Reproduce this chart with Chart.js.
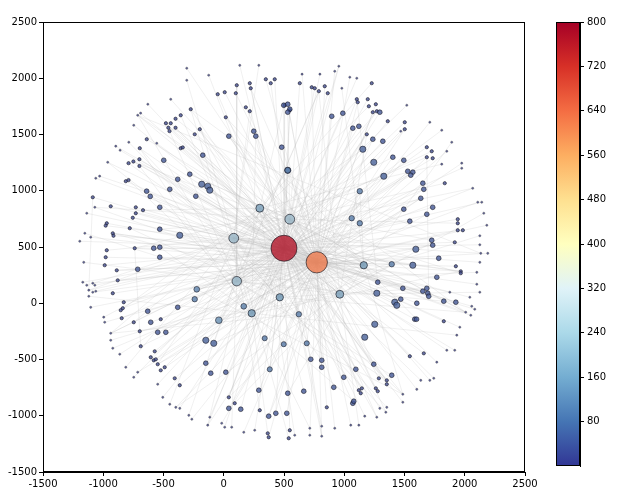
<!DOCTYPE html>
<html><head><meta charset="utf-8">
<script src="https://cdn.jsdelivr.net/npm/chart.js@4"></script>
<style>body{margin:0;background:#fff;width:626px;height:500px;position:relative;overflow:hidden}
canvas{position:absolute;top:0}</style></head>
<body>
<canvas id="main" width="626" height="500" style="left:0"></canvas>
<canvas id="cbar" width="86" height="500" style="left:540px"></canvas>
<script>
// axis ticks
const axisTicks = [-1500,-1000,-500,0,500,1000,1500,2000,2500];
const cbarTicks = [80,160,240,320,400,480,560,640,720,800];
// nodes: [x, y, degree, hub index it links to]
const nodes = [
[500,489,770,1],[772,364,620,0],[548,747,250,0],[83,578,250,0],[108,196,240,1],[299,845,190,1],
[963,80,190,0],[1162,338,170,0],[465,53,170,1],[232,-89,170,0],[531,1182,120,0],[1129,996,110,1],
[-224,124,120,0],[166,-27,120,1],[-41,-151,150,0],[1394,347,110,1],[623,-98,110,0],[689,-356,100,1],
[340,-311,100,0],[498,-364,100,1],[382,-587,100,0],[1062,756,110,0],[1129,711,110,1],[-241,36,110,0],
[-307,1982,5,3],[-125,2027,5,5],[-50,1858,20,0],[8,1876,20,2],[100,1867,20,1],[108,1938,20,4],[216,1956,20,0],
[224,1911,20,6],[349,1991,20,1],[390,1956,20,2],[423,1991,20,0],[17,1653,20,7],[183,1742,20,1],[216,1707,20,3],
[506,1760,20,0],[548,1716,20,8],[42,1485,40,1],[249,1529,40,0],[266,1485,40,9],[481,1387,40,1],[531,1182,60,0],
[-199,1547,20,2],[-241,1502,20,1],[-174,1316,40,0],[-357,1378,20,6],[-340,1385,20,1],[-274,1725,20,0],[-357,1671,20,3],
[-480,1600,20,1],[-440,1600,20,0],[-400,1640,20,7],[-400,1560,20,1],[-460,1560,20,0],[-450,1530,20,4],[-440,1813,5,1],
[-630,1769,5,0],[-714,1671,5,2],[-690,1690,5,1],[-747,1582,5,0],[-639,1458,20,5],[-556,1422,5,1],[-697,1378,20,0],
[-788,1431,5,8],[-896,1396,5,1],[-860,1360,5,0],[-790,1245,20,3],[-750,1260,20,1],[-700,1280,20,0],[-700,1220,20,9],
[-498,1271,40,1],[-382,1102,40,0],[-282,1147,40,2],[-183,1058,60,1],[-133,1040,60,0],[-116,1005,60,6],[-232,951,40,1],
[-448,1013,40,0],[-640,996,40,3],[-610,950,40,1],[-813,1085,20,0],[-790,1095,20,4],[-963,1253,5,1],[-1062,1111,5,0],
[-1030,1130,5,7],[-1087,942,20,1],[-938,862,20,0],[-1070,853,5,2],[-1137,800,5,1],[-730,853,20,0],[-670,827,20,5],
[-730,800,20,1],[-755,760,20,0],[-531,853,40,3],[-971,711,20,1],[-980,690,20,0],[-780,667,20,8],[-921,622,20,1],
[-915,600,20,0],[-1153,622,5,4],[-1104,587,5,1],[-1195,551,5,0],[-531,658,40,2],[-365,604,60,1],[-581,489,40,0],
[-531,498,40,9],[-531,409,40,1],[-739,489,20,0],[-971,471,20,3],[-980,409,20,1],[-988,338,20,0],[-1162,364,5,6],
[-888,293,20,1],[-714,302,40,0],[631,1956,20,2],[730,1920,20,1],[755,1911,20,0],[789,1885,20,4],[838,1929,20,1],
[863,1867,20,0],[980,1911,5,7],[921,2062,5,1],[955,2107,5,0],[1228,1956,20,3],[1046,2009,5,1],[1104,2000,5,0],
[498,1760,40,5],[531,1769,40,1],[548,1725,40,0],[531,1698,40,2],[896,1662,40,1],[988,1689,40,0],[1104,1814,20,8],
[1112,1787,20,1],[1195,1814,20,0],[1204,1751,20,3],[1237,1698,20,1],[1270,1707,20,0],[1295,1698,40,9],[1262,1769,20,1],
[1361,1618,20,0],[1502,1609,20,4],[1502,1547,20,1],[1469,1529,5,0],[1519,1760,5,2],[1071,1556,40,1],[1121,1573,40,0],
[1187,1502,20,6],[1237,1458,40,1],[1320,1440,40,0],[1154,1369,60,3],[1710,1609,5,1],[1809,1538,5,0],[1892,1431,5,7],
[1851,1351,5,1],[1685,1387,20,0],[1726,1351,20,2],[1685,1298,20,1],[1734,1289,20,0],[1809,1236,5,5],[1975,1245,5,1],
[1975,1200,5,0],[1403,1298,40,3],[1494,1271,40,1],[1245,1253,60,0],[1328,1129,60,8],[1527,1173,40,1],[1569,1165,40,0],
[1552,1138,40,4],[1652,1067,40,1],[1660,1013,40,0],[1834,1067,20,2],[1635,933,40,1],[1734,853,40,0],[1685,791,40,9],
[1494,836,40,1],[1544,729,40,0],[2066,1022,5,3],[2108,898,5,1],[2141,898,5,0],[2158,800,5,6],[2183,693,5,1],
[1942,747,20,0],[1942,711,20,2],[1942,649,20,1],[1984,649,20,0],[1726,560,40,5],[1734,516,40,1],[1917,542,20,0],
[1594,480,60,7],[1784,400,40,1],[1569,338,60,0],[2133,444,5,3],[2191,444,5,1],[2125,364,5,0],[2100,275,5,4],
[1926,329,20,1],[1967,284,20,0],[1967,267,20,2],[1768,231,40,1],[2125,520,5,0],[2125,600,5,8],
[-880,204,20,1],[-1170,187,5,0],[-1137,160,5,3],[-1087,178,5,1],[-1070,160,5,0],[-1120,116,5,2],[-1087,98,5,1],
[-1062,107,5,0],[-1120,62,5,9],[-921,89,20,1],[-382,-36,40,0],[-631,-71,40,4],[-830,9,20,1],[-838,-44,20,0],
[-855,-62,20,5],[-1104,-36,5,1],[-847,-133,20,0],[-747,-169,20,3],[-606,-169,40,1],[-523,-142,20,0],[-697,-249,20,6],
[-548,-258,40,1],[-481,-258,40,0],[-996,-124,5,2],[-988,-169,5,1],[-938,-267,5,0],[-938,-329,5,7],[-921,-400,5,1],
[-863,-453,5,0],[-813,-569,5,3],[-689,-382,20,1],[-573,-427,20,0],[-606,-480,20,4],[-581,-507,20,1],[-564,-498,20,0],
[-548,-542,20,8],[-523,-596,20,1],[-490,-569,20,0],[-747,-658,5,2],[-714,-613,5,1],[-548,-720,5,0],[-407,-667,20,9],
[-365,-729,20,1],[-506,-836,5,0],[-448,-898,5,3],[-398,-925,5,1],[-365,-934,5,0],[-290,-996,5,5],[-265,-1031,5,1],
[-149,-329,60,0],[-83,-356,60,4],[-149,-533,40,1],[-108,-622,40,0],[17,-613,40,2],[291,-773,40,1],[42,-836,20,0],
[91,-889,20,6],[42,-934,40,1],[141,-942,40,0],[299,-951,20,3],[373,-1004,40,1],[432,-978,40,0],[531,-800,40,7],
[523,-978,40,1],[-116,-1013,5,0],[-133,-1084,5,2],[-17,-1067,5,1],[8,-1102,5,0],[66,-1102,5,4],[166,-1147,5,1],
[257,-1129,5,0],[365,-1156,20,9],[373,-1191,20,1],[548,-1129,20,0],[539,-1200,20,3],
[1278,187,40,1],[1270,89,60,0],[1486,133,40,2],[1419,9,60,1],[1436,-18,60,0],[1469,36,40,5],[1602,0,40,1],
[1652,107,40,0],[1685,133,40,8],[1693,89,40,1],[1701,62,40,0],[1826,18,40,4],[1876,98,5,1],[1926,9,40,0],
[2125,98,5,6],[2100,169,5,1],[2042,53,5,0],[2058,-27,5,3],[2083,-53,5,1],[2050,-107,5,0],[2008,-80,5,2],
[1253,-187,60,1],[1585,-142,40,0],[1600,-142,40,7],[1826,-160,20,1],[1959,-213,5,0],[1934,-284,5,9],[1170,-302,60,1],
[722,-498,40,0],[813,-507,40,3],[813,-569,40,1],[1096,-587,40,0],[1245,-542,40,6],[1544,-471,20,1],[1660,-445,20,0],
[1768,-524,5,2],[1851,-418,5,1],[1917,-418,5,0],[1394,-640,40,4],[1287,-667,20,1],[1353,-685,20,0],[1353,-720,20,5],
[996,-658,40,1],[913,-747,40,0],[664,-782,40,8],[1121,-773,20,1],[1146,-756,20,0],[1137,-800,20,3],[1262,-756,20,1],
[1278,-782,20,0],[1486,-809,5,7],[1602,-765,5,1],[1635,-685,5,0],[1710,-685,5,2],[1743,-667,5,1],[1071,-889,40,0],
[1079,-871,40,9],[855,-925,20,1],[1295,-934,5,0],[1353,-925,5,3],[1345,-969,5,1],[1486,-880,5,0],[1121,-1084,5,6],
[1054,-1084,5,1],[1170,-1004,5,0],[1270,-1013,5,2],[921,-1111,5,1],[813,-1093,5,0],[714,-1111,5,4],[714,-1173,5,1],
[813,-1182,5,0],[589,-1173,5,5],[-307,2089,5,1],[133,2115,5,0],[291,2115,5,3],[650,2036,5,1],[798,2036,5,0]
];
// extra edges: [from, to]
const extraEdges = [[0,3],[0,4],[0,5],[0,6],[0,7],[1,2],[1,6],[1,7],[2,5],[3,4],[5,10],[6,15],[7,11],[8,9],[4,12],
[0,150],[1,240],[0,300],[1,60],[2,280],[3,190],[4,170],[5,320],[6,90],[7,110],[2,260],[3,330],[0,210],[1,130],[6,250],
[2,40],[2,75],[2,300],[2,350],[3,160],[3,200],[3,370],[3,290],[4,140],[4,180],[4,320],[4,60],[5,270],[5,230],[5,345],
[6,80],[6,100],[6,120],[7,95],[7,260],[7,40],[8,125],[8,85],[8,300],[9,150],[9,50],[9,175],[10,280],[10,240],
[11,110],[11,265],[12,190],[12,330],[13,145],[13,65],[14,200],[14,120],[15,70],[15,255],[16,45],[16,230],
[0,20],[0,30],[0,45],[0,70],[0,105],[0,120],[0,175],[0,230],[0,260],[0,330],[0,360],[1,35],[1,55],[1,100],[1,115],
[1,165],[1,200],[1,270],[1,310],[1,350],[50,300],[88,210],[160,290],[65,340],[110,235],[135,280],[60,195],[100,360]];

const stops = [[0,[49,54,149]],[0.1,[69,117,180]],[0.2,[116,173,209]],[0.3,[171,217,233]],[0.4,[224,243,248]],
[0.5,[255,255,191]],[0.6,[254,224,144]],[0.7,[253,174,97]],[0.8,[244,109,67]],[0.9,[215,48,39]],[1,[165,0,38]]];
function cmap(t){t=Math.max(0,Math.min(1,t));for(let i=1;i<stops.length;i++){if(t<=stops[i][0]){const a=stops[i-1],b=stops[i];const f=(t-a[0])/(b[0]-a[0]);return a[1].map((c,k)=>Math.round(c+(b[1][k]-c)*f));}}return stops[stops.length-1][1];}
function radius(v){return v<100?0.9+v/27:1+v*0.0156;}
function fill(v){const c=cmap(v/800);const m=v<300?0.3:0.05;const g=[90,90,110];return `rgba(${c.map((x,k)=>Math.round(x*(1-m)+g[k]*m)).join(',')},0.8)`;}

const edgePts=[];
function addEdge(a,b){const A=nodes[a],B=nodes[b];if(!A||!B)return;edgePts.push({x:A[0],y:A[1]},{x:B[0],y:B[1]},{x:null,y:null});}
nodes.forEach((n,i)=>{if(i!==n[3])addEdge(i,n[3]);});
extraEdges.forEach(e=>addEdge(e[0],e[1]));

const sorted=nodes.slice().sort((a,b)=>a[2]-b[2]);
const pts=sorted.map(n=>({x:n[0],y:n[1],v:n[2]}));

const font={family:'DejaVu Sans',size:10};
const plain=v=>String(v);
new Chart(document.getElementById('main'),{
 type:'scatter',
 data:{datasets:[
  {type:'line',data:edgePts,showLine:true,spanGaps:false,pointRadius:0,borderColor:'rgba(185,185,185,0.22)',borderWidth:1,order:2},
  {data:pts,order:1,
   pointRadius:c=>radius(c.raw.v),
   pointHoverRadius:c=>radius(c.raw.v),
   backgroundColor:c=>fill(c.raw.v),
   borderColor:c=>c.raw.v<10?'rgba(40,40,40,0.5)':'rgba(20,20,30,0.8)',borderWidth:c=>c.raw.v>150?0.8:0.7}
 ]},
 options:{responsive:false,animation:false,
  layout:{padding:{left:0,right:101,top:22,bottom:0}},
  plugins:{legend:{display:false},tooltip:{enabled:false}},
  scales:{
   x:{type:'linear',min:-1500,max:2500,afterBuildTicks:a=>{a.ticks=axisTicks.map(v=>({value:v}));},
      afterFit:a=>{a.height=28;},
      grid:{display:true,drawOnChartArea:false,tickLength:4,color:'#000'},border:{color:'#000'},
      ticks:{color:'#000',font,maxRotation:0,padding:2,callback:plain}},
   y:{type:'linear',min:-1500,max:2500,afterBuildTicks:a=>{a.ticks=axisTicks.map(v=>({value:v}));},
      afterFit:a=>{a.width=43;},
      grid:{display:true,drawOnChartArea:false,tickLength:4,color:'#000'},border:{color:'#000'},
      ticks:{color:'#000',font,padding:2,callback:plain}}
  }
 },
 plugins:[{id:'frame',afterDraw(ch){const a=ch.chartArea,c=ch.ctx;c.save();c.strokeStyle='#000';c.lineWidth=1;c.strokeRect(a.left+0.5,a.top+0.5,a.width-1,a.height-1);c.restore();}}]
});

new Chart(document.getElementById('cbar'),{
 type:'bar',
 data:{labels:[''],datasets:[{data:[[0,800]],barPercentage:1,categoryPercentage:1,
   backgroundColor:c=>{const a=c.chart.chartArea;if(!a)return '#888';const g=c.chart.ctx.createLinearGradient(0,a.bottom,0,a.top);stops.forEach(s=>g.addColorStop(s[0],`rgb(${s[1].join(',')})`));return g;}}]},
 options:{responsive:false,animation:false,
  layout:{padding:{left:16,right:0,top:22,bottom:34}},
  plugins:{legend:{display:false},tooltip:{enabled:false}},
  scales:{
   x:{display:false},
   y:{position:'right',min:0,max:800,afterBuildTicks:a=>{a.ticks=cbarTicks.map(v=>({value:v}));},
      afterFit:a=>{a.width=46;},
      grid:{display:true,drawOnChartArea:false,tickLength:4,color:'#000'},border:{color:'#000'},
      ticks:{color:'#000',font,padding:3}}
  }
 },
 plugins:[{id:'frame',afterDraw(ch){const a=ch.chartArea,c=ch.ctx;c.save();c.strokeStyle='#000';c.lineWidth=1;c.strokeRect(a.left+0.5,a.top+0.5,a.width-1,a.height-1);c.restore();}}]
});
</script>
</body></html>
